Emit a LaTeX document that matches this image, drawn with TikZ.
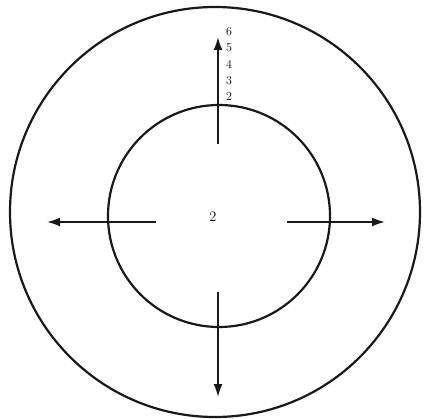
\documentclass[tikz,border=0pt]{standalone}
\usepackage{tikz}
\usetikzlibrary{arrows.meta, positioning, calc}

\begin{document}
\begin{tikzpicture}[x=1pt, y=-1pt, font=\large]
\tikzstyle{ring} = [circle, draw=black!90, line width=2.2pt, inner sep=0pt]
\tikzstyle{mark label} = [inner sep=0pt, minimum height=16pt, font=\large]
\tikzstyle{line} = [draw, -{Latex[length=13pt, width=9pt]}, line width=1.8pt, black!90]

\useasboundingbox (0,0) rectangle (425,419);

% the two circles
\node (outer) [ring, minimum size=410pt] at (215,212) {};
\node (inner) [ring, minimum size=222pt] at (219,216) {};
\node (centre) [font=\Large] at (213,217) {2};

% arrow ends
\coordinate (up start) at (218,144);
\coordinate (up end) at (218,37);
\coordinate (left start) at (156,222);
\coordinate (left end) at (47,222);
\coordinate (right start) at (287,222);
\coordinate (right end) at (385,222);
\coordinate (down start) at (218,292);
\coordinate (down end) at (218,397);

\draw [line] (up start) -- (up end);
\draw [line] (left start) -- (left end);
\draw [line] (right start) -- (right end);
\draw [line] (down start) -- (down end);

% numbers beside the top arrow
\node (n2) [mark label] at (229,97) {2};
\node (n3) [mark label, above=0pt of n2] {3};
\node (n4) [mark label, above=0pt of n3] {4};
\node (n5) [mark label, above=0pt of n4] {5};
\node (n6) [mark label, above=0pt of n5] {6};
\end{tikzpicture}
\end{document}
